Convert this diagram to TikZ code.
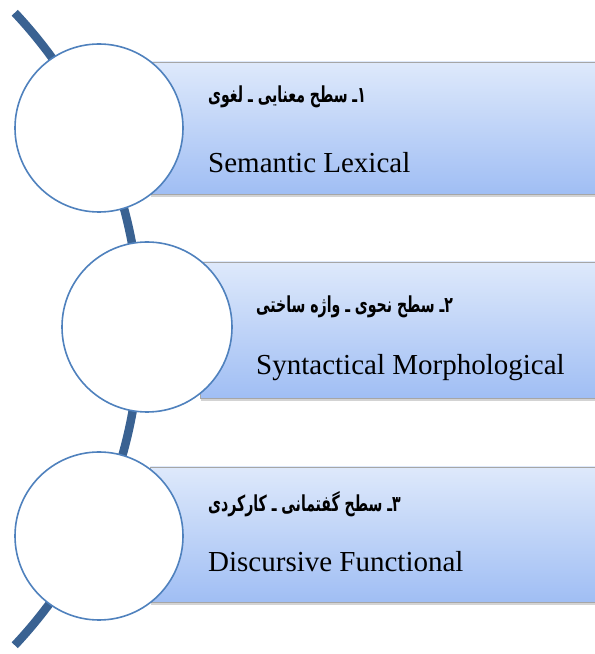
\documentclass[tikz,border=0pt]{standalone}
\usepackage{fontspec}
\setmainfont{Liberation Serif}
\newfontfamily\farsi[Script=Arabic]{DejaVu Sans}
\TeXXeTstate=1
\usetikzlibrary{positioning,shadows}
\definecolor{spineblue}{RGB}{58,98,146}
\definecolor{ringblue}{RGB}{79,129,189}
\definecolor{bandtop}{RGB}{222,233,251}
\definecolor{bandbot}{RGB}{160,190,244}
\newcommand{\fatext}[1]{\scalebox{0.64}[1]{\beginR #1\endR}}

\begin{document}
\begin{tikzpicture}[x=1pt,y=1pt]
	\tikzstyle{ring}
	  =[draw=ringblue, line width=1.6pt, fill=white, circle, 
	  inner sep=0pt]
	\tikzstyle{band}
	  =[draw=gray!70, line width=0.6pt, rectangle, 
	  top color=bandtop, bottom color=bandbot, 
	  minimum width=445pt, minimum height=132pt, anchor=west,
	  drop shadow={opacity=0.35, shadow xshift=1pt, shadow yshift=-3pt}]
	\tikzstyle{fa}
	  =[anchor=west, inner sep=0pt, font=\farsi\bfseries\fontsize{22}{26}\selectfont]
	\tikzstyle{en}
	  =[anchor=base west, inner sep=0pt, font=\fontsize{29}{33}\selectfont]
	\useasboundingbox (0,0) rectangle (595,654);
	
	% spine behind everything
	\coordinate (hub) at (-322,325);
	\draw[spineblue, line width=8.5pt] 
	  ([shift={(43.2:462)}]hub) arc[start angle=43.2, end angle=-43.2, radius=462];
	
	\node[band] (band1) at (150,526) {};
	\node[band, minimum width=395pt, minimum height=136pt] (band2) at (200,324) {};
	\node[band, minimum height=135pt] (band3) at (150,119.5) {};
	
	\node[ring, minimum size=168pt] (circ1) at (99,526) {};
	\node[ring, minimum size=170pt] (circ2) at (147,327) {};
	\node[ring, minimum size=168pt] (circ3) at (99,118) {};
	
	\node[fa] (fa1) at (208,557) {\fatext{۱ـ سطح معنایی ـ لغوی}};
	\node[en] (en1) at (208,481) {Semantic Lexical};
	
	\node[fa] (fa2) at (256,347) {\fatext{۲ـ سطح نحوی ـ واژه ساختی}};
	\node[en] (en2) at (256,279) {Syntactical Morphological};
	
	\node[fa] (fa3) at (208,150) {\fatext{۳ـ سطح گفتمانی ـ کارکردی}};
	\node[en] (en3) at (208,82) {Discursive Functional};
\end{tikzpicture}
\end{document}
